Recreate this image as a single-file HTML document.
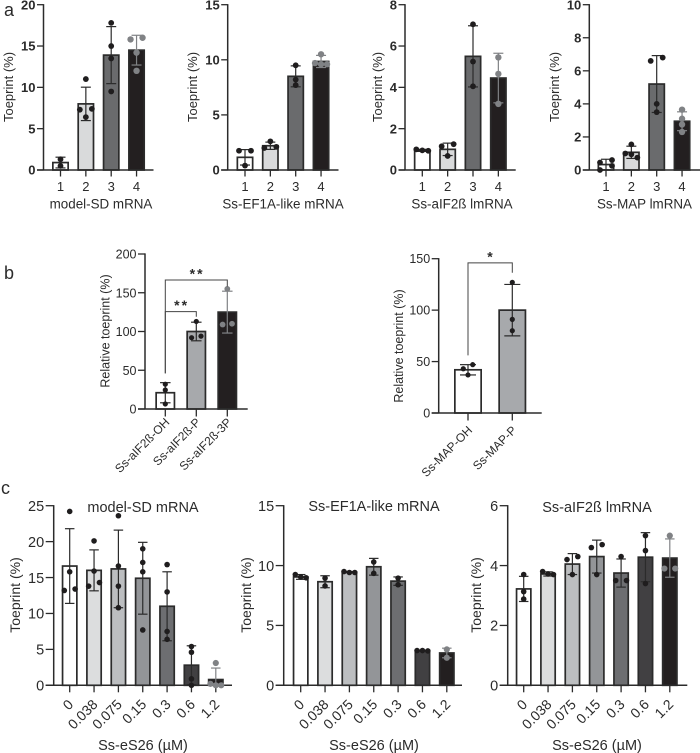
<!DOCTYPE html>
<html lang="en">
<head>
<meta charset="utf-8">
<title>Toeprint bar charts</title>
<style>
html,body{margin:0;padding:0;background:#fff;}
svg{display:block;}
text{font-family:"Liberation Sans",sans-serif;fill:#2b2b2b;}
.xl{font-size:13.4px;text-anchor:middle;}
.yt{font-size:13px;text-anchor:middle;}
.yc{font-size:14px;text-anchor:middle;}
.tt{font-size:14.5px;text-anchor:middle;}
.pl{font-size:18px;}
</style>
</head>
<body>
<svg id="figure" width="700" height="753" viewBox="0 0 700 753" xmlns="http://www.w3.org/2000/svg">
  <text class="pl" x="4" y="16">a</text>
  <text class="pl" x="4" y="279">b</text>
  <text class="pl" x="1" y="494">c</text>

  <text class="xl" x="101" y="208.5">model-SD mRNA</text>
  <text class="xl" x="283" y="208.5">Ss-EF1A-like mRNA</text>
  <text class="xl" x="462" y="208.5">Ss-aIF2ß lmRNA</text>
  <text class="xl" x="644.5" y="208.5">Ss-MAP lmRNA</text>

  <text class="yt" transform="translate(13,87) rotate(-90)">Toeprint (%)</text>
  <text class="yt" transform="translate(197,87) rotate(-90)">Toeprint (%)</text>
  <text class="yt" transform="translate(382,87) rotate(-90)">Toeprint (%)</text>
  <text class="yt" transform="translate(559,87) rotate(-90)">Toeprint (%)</text>

  <text class="yt" style="font-size:12.5px" transform="translate(109.5,331) rotate(-90)">Relative toeprint (%)</text>
  <text class="yt" style="font-size:12.5px" transform="translate(403,346) rotate(-90)">Relative toeprint (%)</text>

  <text class="yc" transform="translate(20,595) rotate(-90)">Toeprint (%)</text>
  <text class="yc" transform="translate(251,595) rotate(-90)">Toeprint (%)</text>
  <text class="yc" transform="translate(481,595) rotate(-90)">Toeprint (%)</text>

  <text class="tt" x="143" y="512">model-SD mRNA</text>
  <text class="tt" x="374" y="511">Ss-EF1A-like mRNA</text>
  <text class="tt" x="597" y="512">Ss-aIF2ß lmRNA</text>

  <text class="tt" x="143" y="750">Ss-eS26 (µM)</text>
  <text class="tt" x="374" y="750">Ss-eS26 (µM)</text>
  <text class="tt" x="597" y="750">Ss-eS26 (µM)</text>
</svg>

<script>
// ---------- categories ----------
const numberedCategories = ['1', '2', '3', '4'];
const b1Categories = ['Ss-aIF2ß-OH', 'Ss-aIF2ß-P', 'Ss-aIF2ß-3P'];
const b2Categories = ['Ss-MAP-OH', 'Ss-MAP-P'];
const concentrationCategories = ['0', '0.038', '0.075', '0.15', '0.3', '0.6', '1.2'];

// ---------- tick labels ----------
const a1Ticks = [0, 5, 10, 15, 20];
const a2Ticks = [0, 5, 10, 15];
const a3Ticks = [0, 2, 4, 6, 8];
const a4Ticks = [0, 2, 4, 6, 8, 10];
const b1Ticks = [0, 50, 100, 150, 200];
const b2Ticks = [0, 50, 100, 150];
const c1Ticks = [0, 5, 10, 15, 20, 25];
const c2Ticks = [0, 5, 10, 15];
const c3Ticks = [0, 2, 4, 6];

// ---------- panel a ----------
const a1Means = [0.9, 8.0, 13.9, 14.5];
const a1Sds = [0.65, 2.02, 3.45, 1.8];
const a1Points = [[1.3, 0.5], [11, 7.4, 7.3, 6.4], [17.8, 15, 13.5, 9.5], [16, 15.8, 14.2, 12]];

const a2Means = [1.15, 2.2, 8.5, 9.85];
const a2Sds = [0.7, 0.33, 0.95, 0.55];
const a2Points = [[1.75, 1.75, 0.4], [2.6, 2.1, 2.0], [9.5, 8.2, 7.7], [10.5, 9.7, 9.6, 9.6]];

const a3Means = [0.95, 1.0, 5.5, 4.45];
const a3Sds = [0.05, 0.3, 1.48, 1.2];
const a3Points = [[1.0, 0.95, 0.93], [1.25, 1.15, 0.68], [7.05, 5.25, 4.05], [5.45, 4.65, 3.2]];

const a4Means = [0.33, 1.07, 5.2, 2.95];
const a4Sds = [0.32, 0.37, 1.72, 0.57];
const a4Points = [[0.6, 0.45, 0.25, 0], [1.55, 1.0, 0.95, 0.75], [6.8, 6.6, 4, 3.5], [3.65, 3.1, 2.75, 2.3]];

// ---------- panel b ----------
const b1Means = [21, 100, 125];
const b1Sds = [13, 12, 27];
const b1Points = [[32, 24.5, 6.5], [113, 94, 92], [155, 110, 109]];

const b2Means = [42, 100];
const b2Sds = [5, 25];
const b2Points = [[47, 43, 37], [127, 91, 80]];

// ---------- panel c ----------
const c1Means = [16.6, 16, 16.2, 14.9, 11, 2.8, 0.8];
const c1Sds = [5.2, 2.85, 5.4, 5, 4.8, 2.7, 1.6];
const c1Points = [[24.2, 15.8, 13.4, 13.2], [20.1, 15.9, 14.3, 13.8], [23.6, 16.6, 13.8, 10.8], [19, 17.1, 15.8, 7.7], [16.8, 13, 7.5, 6.4], [5.4, 4.6, 0.9, 0], [3.1, 0.2, 0, 0]];

const c2Means = [9.05, 8.65, 9.45, 9.9, 8.7, 2.9, 2.7];
const c2Sds = [0.2, 0.5, 0.05, 0.7, 0.35, 0.03, 0.4];
const c2Points = [[9.25, 9.05, 8.98], [8.95, 8.3], [9.5, 9.42, 9.42], [10.3, 9.35], [8.95, 8.4], [2.9, 2.9, 2.87], [3, 2.3]];

const c3Means = [3.22, 3.72, 4.05, 4.3, 3.75, 4.28, 4.25];
const c3Sds = [0.42, 0.07, 0.35, 0.55, 0.47, 0.82, 0.64];
const c3Points = [[3.7, 3.13, 2.88], [3.8, 3.72, 3.7], [4.3, 4.2, 3.7], [4.7, 4.6, 3.7], [4.3, 3.5, 3.5], [5, 4.5, 3.4], [5, 3.9, 3.9]];

// ---------- significance brackets: [from bar, to bar, left foot, top, right foot] ----------
const b1Brackets = [[0, 2, 46, 166.5, 158], [0, 1, 46, 125.6, 119]];
const b1BracketLabels = ['**', '**'];
const b2Brackets = [[0, 1, 56, 146, 136.4]];
const b2BracketLabels = ['*'];

// ---------- drawing ----------
const SVG_NS = 'http://www.w3.org/2000/svg';
const figure = document.getElementById('figure');
const DARK = '#2b2b2b';
const GRAY = '#808285';

function make(parent, tag, attrs) {
  const node = document.createElementNS(SVG_NS, tag);
  for (const key in attrs) node.setAttribute(key, attrs[key]);
  parent.appendChild(node);
  return node;
}

// Prism-style spreading: points closer than the threshold sit side by side.
function spreadPoints(values, yScale, spacing) {
  const sorted = values.slice().sort(function (p, q) { return q - p; });
  const placed = [];
  let i = 0;
  while (i < sorted.length) {
    const cluster = [sorted[i]];
    let j = i + 1;
    while (j < sorted.length && yScale(sorted[j]) - yScale(sorted[i]) < 5) {
      cluster.push(sorted[j]);
      j++;
    }
    cluster.forEach(function (v, k) {
      let offset = 0;
      if (cluster.length === 2) offset = k === 0 ? spacing : -spacing;
      if (cluster.length === 3) offset = (k - 1) * spacing;
      if (cluster.length > 3) offset = (k - (cluster.length - 1) / 2) * spacing;
      placed.push({ value: v, offset: offset });
    });
    i = j;
  }
  return placed;
}

function drawPanel(p) {
  const maxTick = p.ticks[p.ticks.length - 1];
  const yScale = function (v) { return p.y0 - v * (p.y0 - p.yTop) / maxTick; };
  const xScale = function (i) { return p.x0 + i * p.step; };

  const group = make(figure, 'g', {});
  
  

  p.means.forEach(function (mean, i) {
    const bar = make(group, 'rect', {
      x: xScale(i) - p.barW / 2 + 0.85,
      y: yScale(mean),
      width: p.barW - 1.7,
      height: p.y0 - yScale(mean),
      fill: p.fills[i],
      stroke: DARK,
      'stroke-width': 1.7
    });
    
    
  });

  const yAxis = make(group, 'line', { x1: p.axisX, x2: p.axisX, y1: p.yTop - 0.6, y2: p.y0, stroke: DARK, 'stroke-width': 1.5 });
  
  

  const xAxis = make(group, 'line', { x1: p.axisX - p.tickY, x2: p.axisEnd, y1: p.y0, y2: p.y0, stroke: DARK, 'stroke-width': 1.5 });
  
  

  p.ticks.forEach(function (t) {
    const tick = make(group, 'line', { x1: p.axisX - p.tickY, x2: p.axisX, y1: yScale(t), y2: yScale(t), stroke: DARK, 'stroke-width': 1.3 });
    
    
    const label = make(group, 'text', {
      x: p.axisX - p.tickY - 1.5,
      y: yScale(t) + p.tickFont * 0.36,
      'text-anchor': 'end',
      'font-size': p.tickFont,
      'font-weight': p.tickWeight
    });
    label.textContent = String(t);
    
    
  });

  p.categories.forEach(function (c, i) {
    const tick = make(group, 'line', { x1: xScale(i), x2: xScale(i), y1: p.y0, y2: p.y0 + p.tickX, stroke: DARK, 'stroke-width': 1.3 });
    
    
    const attrs = p.rotated
      ? { transform: 'translate(' + (xScale(i) + p.labelDx) + ',' + (p.y0 + p.labelDy) + ') rotate(-45)', 'text-anchor': 'end', 'font-size': p.catFont }
      : { x: xScale(i), y: p.y0 + p.labelDy, 'text-anchor': 'middle', 'font-size': p.catFont };
    const label = make(group, 'text', attrs);
    label.textContent = c;
    
    
  });

  p.means.forEach(function (mean, i) {
    const colour = i === p.grayIndex ? GRAY : DARK;
    const cx = xScale(i);
    const hi = yScale(mean + p.sds[i]);
    const rawLo = mean - p.sds[i];
    const lo = yScale(Math.max(rawLo, 0));
    const stem = make(group, 'line', { x1: cx, x2: cx, y1: hi, y2: lo, stroke: colour, 'stroke-width': 1.2 });
    
    
    const capTop = make(group, 'line', { x1: cx - p.cap / 2, x2: cx + p.cap / 2, y1: hi, y2: hi, stroke: colour, 'stroke-width': 1.2 });
    
    
    if (rawLo > 0) {
      const capLow = make(group, 'line', { x1: cx - p.cap / 2, x2: cx + p.cap / 2, y1: lo, y2: lo, stroke: colour, 'stroke-width': 1.2 });
      
      
    }
    spreadPoints(p.points[i], yScale, p.spread).forEach(function (pt) {
      const dot = make(group, 'circle', {
        cx: cx + pt.offset,
        cy: yScale(pt.value),
        r: i === p.grayIndex ? p.dotR + 0.3 : p.dotR,
        fill: i === p.grayIndex ? GRAY : '#1f1d1e'
      });
      
      
    });
  });

  (p.brackets || []).forEach(function (b, i) {
    const xa = xScale(b[0]);
    const xb = xScale(b[1]);
    const top = yScale(b[3]);
    const path = make(group, 'path', {
      d: 'M' + xa + ' ' + yScale(b[2]) + 'V' + top + 'H' + xb + 'V' + yScale(b[4]),
      fill: 'none',
      stroke: '#444',
      'stroke-width': 1
    });
    
    
    const star = make(group, 'text', {
      x: (xa + xb) / 2 + 0.8,
      y: top - 1.5,
      'text-anchor': 'middle',
      'font-size': 14,
      'font-weight': 'bold',
      'letter-spacing': 2
    });
    star.textContent = p.bracketLabels[i];
    
    
  });
}

const fillsFour = ['#ffffff', '#d9dadb', '#6a6b6d', '#231f20'];
const fillsConc = ['#ffffff', '#dcddde', '#bcbec0', '#939598', '#6d6e71', '#414042', '#231f20'];
const styleA = { y0: 170, yTop: 4.7, step: 25.35, barW: 17, cap: 10, tickY: 6.5, tickX: 6.5, tickFont: 13, tickWeight: 'bold', catFont: 13, labelDy: 21, rotated: false, dotR: 2.9, spread: 6, grayIndex: 3 };
const styleC = { y0: 685.3, yTop: 505.7, step: 24.35, barW: 16, cap: 9.5, tickY: 8, tickX: 7, tickFont: 14.5, tickWeight: 'normal', catFont: 14, labelDx: 4.5, labelDy: 20, rotated: true, dotR: 2.8, spread: 5.4, grayIndex: 6 };

drawPanel(Object.assign({}, styleA, { name: 'a1', axisX: 43.5, axisEnd: 153.5, x0: 60.5, categories: numberedCategories, ticks: a1Ticks, means: a1Means, sds: a1Sds, points: a1Points, fills: fillsFour }));
drawPanel(Object.assign({}, styleA, { name: 'a2', axisX: 227.7, axisEnd: 338.5, x0: 245, categories: numberedCategories, ticks: a2Ticks, means: a2Means, sds: a2Sds, points: a2Points, fills: fillsFour }));
drawPanel(Object.assign({}, styleA, { name: 'a3', axisX: 405, axisEnd: 515.7, x0: 422.3, categories: numberedCategories, ticks: a3Ticks, means: a3Means, sds: a3Sds, points: a3Points, fills: fillsFour }));
drawPanel(Object.assign({}, styleA, { name: 'a4', axisX: 589.3, axisEnd: 700, x0: 606, categories: numberedCategories, ticks: a4Ticks, means: a4Means, sds: a4Sds, points: a4Points, fills: fillsFour }));

drawPanel({ name: 'b1', y0: 409, yTop: 254, axisX: 145, axisEnd: 247.7, x0: 165.3, step: 31, barW: 20, cap: 10.5, tickY: 7, tickX: 7.5, tickFont: 12.5, tickWeight: 'normal', catFont: 12, labelDx: 5, labelDy: 14, rotated: true, dotR: 2.6, spread: 4.7, grayIndex: 2, categories: b1Categories, ticks: b1Ticks, means: b1Means, sds: b1Sds, points: b1Points, fills: ['#ffffff', '#a7a9ac', '#231f20'], brackets: b1Brackets, bracketLabels: b1BracketLabels });
drawPanel({ name: 'b2', y0: 413, yTop: 258.7, axisX: 438.7, axisEnd: 541.7, x0: 468, step: 44.3, barW: 28, cap: 16, tickY: 7, tickX: 7.5, tickFont: 12.5, tickWeight: 'normal', catFont: 12, labelDx: 5, labelDy: 18, rotated: true, dotR: 2.6, spread: 4.7, grayIndex: -1, categories: b2Categories, ticks: b2Ticks, means: b2Means, sds: b2Sds, points: b2Points, fills: ['#ffffff', '#a7a9ac'], brackets: b2Brackets, bracketLabels: b2BracketLabels });

drawPanel(Object.assign({}, styleC, { name: 'c1', axisX: 53.7, axisEnd: 232, x0: 69.7, categories: concentrationCategories, ticks: c1Ticks, means: c1Means, sds: c1Sds, points: c1Points, fills: fillsConc }));
drawPanel(Object.assign({}, styleC, { name: 'c2', axisX: 283.7, axisEnd: 462, x0: 300.7, categories: concentrationCategories, ticks: c2Ticks, means: c2Means, sds: c2Sds, points: c2Points, fills: fillsConc }));
drawPanel(Object.assign({}, styleC, { name: 'c3', axisX: 507.7, axisEnd: 687.3, x0: 523.7, categories: concentrationCategories, ticks: c3Ticks, means: c3Means, sds: c3Sds, points: c3Points, fills: fillsConc }));
</script>
</body>
</html>
